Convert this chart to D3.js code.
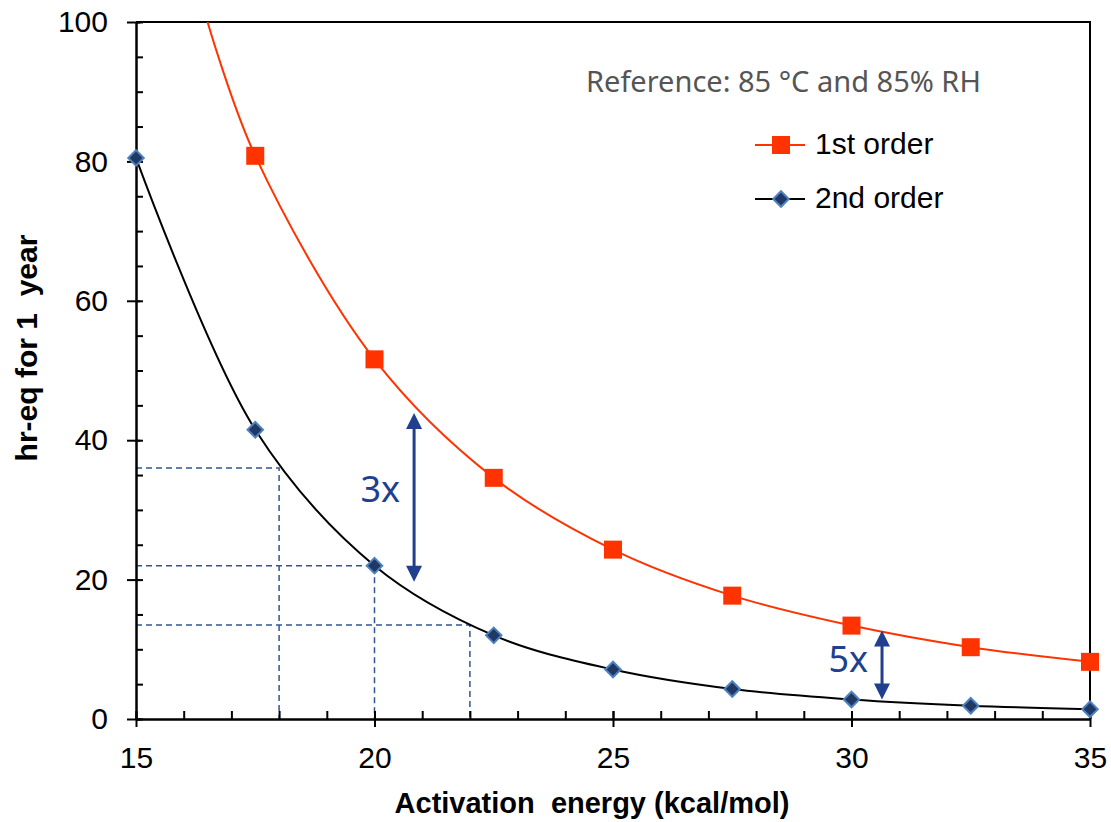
<!DOCTYPE html>
<html><head><meta charset="utf-8">
<script src="https://cdn.jsdelivr.net/npm/d3@7"></script>
<style>body{margin:0;background:#fff}svg{display:block}</style>
</head><body><svg id="c" width="1111" height="822"></svg>
<script>
// ---- data ----
const energies = [15, 17.5, 20, 22.5, 25, 27.5, 30, 32.5, 35];
const firstOrderX = [17.5, 20, 22.5, 25, 27.5, 30, 32.5, 35];
const firstOrder = [80.8, 51.6, 34.6, 24.3, 17.7, 13.4, 10.3, 8.2];
// smooth-fit line start read where the red curve meets the top of the plot
const firstOrderCurveStartX = [16.5];
const firstOrderCurveStartY = [100];
const secondOrder = [80.5, 41.5, 22.0, 12.0, 7.1, 4.3, 2.8, 1.9, 1.4];
const xTicks = [15, 20, 25, 30, 35];
const yTicks = [0, 20, 40, 60, 80, 100];
// guide lines: [x, y]
const guideX = [18, 20, 22];
const guideY = [36, 22, 13.5];
// arrows: x, yTop, yBottom, label
const arrowX = [20.83, 30.64];
const arrowTop = [43.9, 12.7];
const arrowBottom = [19.7, 2.8];
const arrowLabels = ["3x", "5x"];
const seriesNames = ["1st order", "2nd order"];
const refText = "Reference: 85 \u00B0C and 85% RH";

// ---- layout ----
const L = 136, T = 22, R = 1090, B = 719;
const svg = d3.select("#c");
const x = d3.scaleLinear().domain([15, 35]).range([L, R]);
const y = d3.scaleLinear().domain([0, 100]).range([B, T]);
const RED = "#FF3300", NAVY = "#1F3864", DBLUE = "#203F8F", GUIDE = "#2F5597";
const SANS = "Arial, 'Liberation Sans', sans-serif";

svg.append("defs").append("clipPath").attr("id", "clip")
  .append("rect").attr("x", L).attr("y", T).attr("width", R - L).attr("height", B - T);

// guides
const g = svg.append("g");
guideX.forEach((gx, i) => {
  g.append("path").attr("d", `M${x(15)},${y(guideY[i])}H${x(gx)}V${y(0)}`)
    .attr("fill", "none").attr("stroke", GUIDE).attr("stroke-width", 1.5).attr("stroke-dasharray", "6,4");
});

// frame
svg.append("path").attr("d", `M${L},${T}H${R}V${B}`).attr("fill", "none").attr("stroke", "#000").attr("stroke-width", 2);

// axes
const xAxis = svg.append("g").attr("transform", `translate(0,${B})`)
  .call(d3.axisBottom(x).tickValues(xTicks).tickSize(8).tickSizeOuter(0).tickPadding(20));
xAxis.select(".domain").attr("stroke-width", 2.5);
xAxis.selectAll(".tick line").attr("y1", -8).attr("y2", 8).attr("stroke-width", 2);
xAxis.selectAll("text").attr("font-family", SANS).attr("font-size", 30).attr("fill", "#000");
const xMinor = svg.append("g").attr("transform", `translate(0,${B})`)
  .call(d3.axisBottom(x).ticks(20).tickSize(-8).tickFormat(""));
xMinor.select(".domain").remove();
xMinor.selectAll(".tick line").attr("stroke-width", 2);

const yAxis = svg.append("g").attr("transform", `translate(${L},0)`)
  .call(d3.axisLeft(y).tickValues(yTicks).tickSize(9).tickSizeOuter(0).tickPadding(19));
yAxis.select(".domain").attr("stroke-width", 2.5);
yAxis.selectAll(".tick line").attr("x1", -9).attr("x2", 4).attr("stroke-width", 2);
yAxis.selectAll("text").attr("font-family", SANS).attr("font-size", 30).attr("fill", "#000");
const yMinor = svg.append("g").attr("transform", `translate(${L},0)`)
  .call(d3.axisLeft(y).ticks(20).tickSize(-7).tickFormat(""));
yMinor.select(".domain").remove();
yMinor.selectAll(".tick line").attr("stroke-width", 2);

// titles
svg.append("text").attr("x", 592).attr("y", 813).attr("text-anchor", "middle")
  .attr("font-family", SANS).attr("font-weight", "bold").attr("font-size", 29)
  .style("white-space", "pre").text("Activation  energy (kcal/mol)");
svg.append("text").attr("transform", "translate(37,348) rotate(-90)").attr("text-anchor", "middle")
  .attr("font-family", SANS).attr("font-weight", "bold").attr("font-size", 30)
  .style("white-space", "pre").text("hr-eq for 1  year");

// curves
const line = d3.line().x(d => x(d[0])).y(d => y(d[1])).curve(d3.curveCatmullRom.alpha(0.5));
const redPts = firstOrderCurveStartX.map((v, i) => [v, firstOrderCurveStartY[i]])
  .concat(firstOrderX.map((v, i) => [v, firstOrder[i]]));
const blkPts = energies.map((v, i) => [v, secondOrder[i]]);
svg.append("path").attr("clip-path", "url(#clip)").attr("d", line(redPts))
  .attr("fill", "none").attr("stroke", RED).attr("stroke-width", 2);
svg.append("path").attr("d", line(blkPts)).attr("fill", "none").attr("stroke", "#000").attr("stroke-width", 2);

// markers
const sq = 18;
const dsym = d3.symbol().type(d3.symbolSquare).size(120);
svg.append("g").selectAll("rect").data(firstOrderX).join("rect")
  .attr("x", (d) => x(d) - sq / 2).attr("y", (d, i) => y(firstOrder[i]) - sq / 2)
  .attr("width", sq).attr("height", sq).attr("fill", RED);
svg.append("g").selectAll("path").data(energies).join("path")
  .attr("transform", (d, i) => `translate(${x(d)},${y(secondOrder[i])}) rotate(45)`)
  .attr("d", dsym)
  .attr("fill", NAVY).attr("stroke", "#4F81BD").attr("stroke-width", 2);

// arrows
const arr = svg.append("g");
const labelDy = [5, 7];
arrowX.forEach((ax, i) => {
  const xx = x(ax), y1 = y(arrowTop[i]), y2 = y(arrowBottom[i]);
  const h = 16, w = 8;
  arr.append("line").attr("x1", xx).attr("x2", xx).attr("y1", y1 + h - 2).attr("y2", y2 - h + 2)
    .attr("stroke", DBLUE).attr("stroke-width", 3);
  arr.append("path").attr("d", `M${xx},${y1}L${xx - w},${y1 + h}L${xx + w},${y1 + h}Z`).attr("fill", DBLUE);
  arr.append("path").attr("d", `M${xx},${y2}L${xx - w},${y2 - h}L${xx + w},${y2 - h}Z`).attr("fill", DBLUE);
  arr.append("text").attr("x", xx - 14).attr("y", (y1 + y2) / 2 + labelDy[i]).attr("text-anchor", "end")
    .attr("font-family", "'Noto Sans', 'Open Sans'").attr("font-size", 36).attr("fill", DBLUE).text(arrowLabels[i]);
});

// legend
svg.append("text").attr("x", 586).attr("y", 92).attr("font-family", "'Noto Sans', 'Open Sans'")
  .attr("font-size", 29).attr("fill", "#555").text(refText);
const lg = svg.append("g");
[0, 1].forEach(i => {
  const ly = i === 0 ? 145 : 199;
  lg.append("line").attr("x1", 755).attr("x2", 805).attr("y1", ly).attr("y2", ly)
    .attr("stroke", i === 0 ? RED : "#000").attr("stroke-width", 2);
  if (i === 0) lg.append("rect").attr("x", 781 - sq / 2).attr("y", ly - sq / 2).attr("width", sq).attr("height", sq).attr("fill", RED);
  else lg.append("path").attr("transform", `translate(781,${ly}) rotate(45)`)
    .attr("d", dsym).attr("fill", NAVY).attr("stroke", "#4F81BD").attr("stroke-width", 2);
  lg.append("text").attr("x", 815).attr("y", ly + 9).attr("font-family", SANS)
    .attr("font-size", 30).attr("fill", "#000").text(seriesNames[i]);
});
</script></body></html>
